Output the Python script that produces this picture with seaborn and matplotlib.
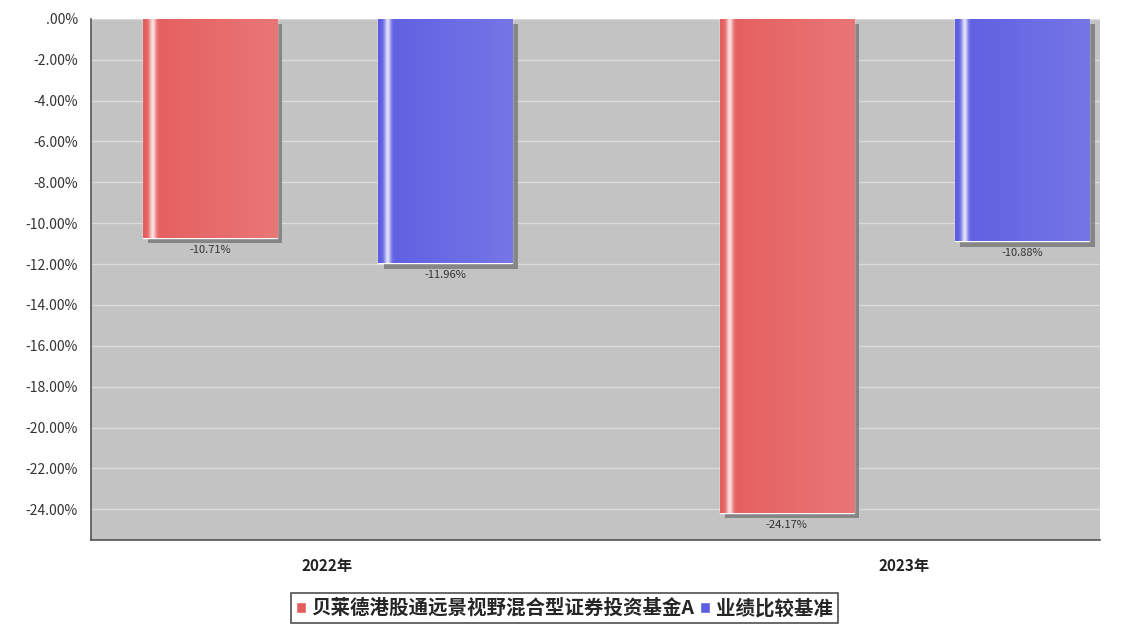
import numpy as np
import pandas as pd
import matplotlib
matplotlib.use("Agg")
import matplotlib.pyplot as plt
import matplotlib.patheffects as pe
import seaborn as sns

years = ["2022年", "2023年"]
series_names = ["贝莱德港股通远景视野混合型证券投资基金A", "业绩比较基准"]
fund_values = [-10.71, -24.17]
bench_values = [-11.96, -10.88]
y_ticks = [0, -2, -4, -6, -8, -10, -12, -14, -16, -18, -20, -22, -24]

df = pd.DataFrame({
    "year": years * 2,
    "series": [series_names[0]] * 2 + [series_names[1]] * 2,
    "value": fund_values + bench_values,
})

sns.set_theme(style="white")
plt.rcParams["font.family"] = ["Noto Sans CJK SC", "DejaVu Sans"]

colors = ["#E55E5E", "#5E5EE2"]
fig = plt.figure(figsize=(11.29, 6.25), dpi=100)
ax = fig.add_axes([0.0806, 0.136, 0.894, 0.834])
ax.set_facecolor("#C3C3C3")

sns.barplot(data=df, x="year", y="value", hue="series", palette=colors,
            saturation=1, width=0.816, gap=0.43, ax=ax, legend=True, zorder=3)

ax.set_ylim(-25.5, 0)
ax.set_xlim(-0.41, 1.34)
ax.set_yticks(y_ticks)
ax.set_yticklabels([".00%" if v == 0 else f"{v:.2f}%" for v in y_ticks],
                   fontsize=10, color="#333333")
ax.yaxis.grid(True, color="#DADADA", linewidth=1.0, zorder=0)
ax.set_axisbelow(True)
ax.set_xlabel("")
ax.set_ylabel("")
for lbl in ax.get_xticklabels():
    lbl.set_fontweight("bold")
    lbl.set_fontsize(11)
    lbl.set_color("#222222")
ax.tick_params(axis="x", pad=7)
for s in ["top", "right"]:
    ax.spines[s].set_visible(False)
for s in ["left", "bottom"]:
    ax.spines[s].set_color("#555555")
    ax.spines[s].set_linewidth(1.2)

# gradient + shadow styling on bars
t = np.linspace(0, 1, 200)
white_amt = 0.8 * np.exp(-((t - 0.07) / 0.025) ** 2) + 0.15 * t
for patch in list(ax.patches):
    if patch.get_height() == 0:
        continue
    base = np.array(patch.get_facecolor()[:3])
    img = base[None, :] * (1 - white_amt[:, None]) + white_amt[:, None]
    img = img[None, :, :]
    x0, w = patch.get_x(), patch.get_width()
    y0, h = patch.get_y(), patch.get_height()
    patch.set_path_effects([pe.SimplePatchShadow(offset=(4, -4), shadow_rgbFace="#808080", alpha=0.9), pe.Normal()])
    im = ax.imshow(img, extent=[x0, x0 + w, y0 + h, y0], aspect="auto",
                   zorder=4, interpolation="bilinear")
    im.set_clip_path(patch)
    ax.text(x0 + w / 2, y0 + h - 0.35, f"{y0 + h:.2f}%",
            ha="center", va="top", fontsize=8, color="#333333", zorder=5)

ax.set_xlim(-0.41, 1.34)
ax.set_ylim(-25.5, 0)

handles, labels = ax.get_legend_handles_labels()
ax.get_legend().remove()
leg = fig.legend(handles, labels, loc="center", bbox_to_anchor=(0.5, 0.027), ncol=2,
                 frameon=True, fancybox=False, edgecolor="#222222", handlelength=0.5,
                 handleheight=0.5, handletextpad=0.3, columnspacing=0.3,
                 borderpad=0.25, prop={"size": 14, "weight": "bold"})
leg.get_frame().set_linewidth(1.2)

fig.savefig("out.png", dpi=100)
